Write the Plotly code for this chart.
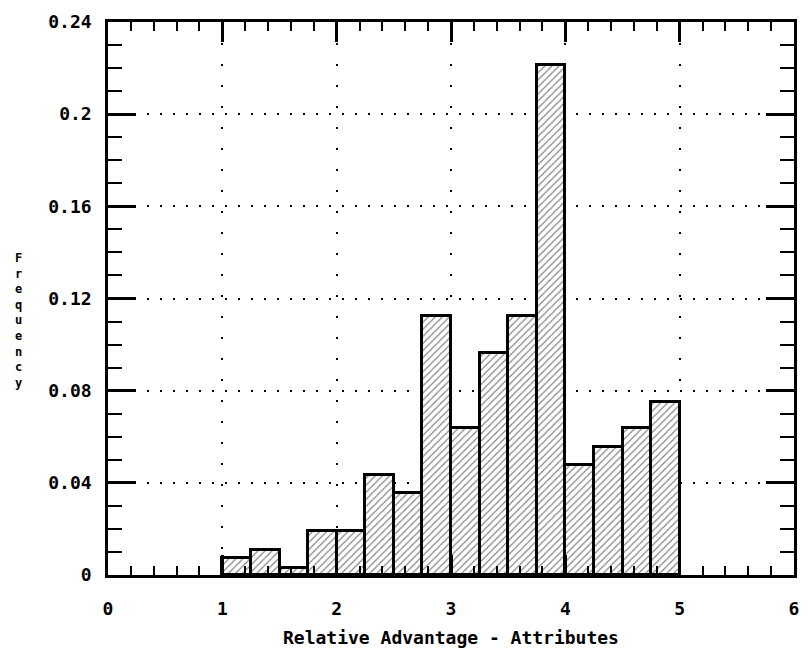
import plotly.graph_objects as go

# Histogram bins (left edges, width 0.25) and relative frequencies
bin_left = [1.0, 1.25, 1.5, 1.75, 2.0, 2.25, 2.5, 2.75, 3.0, 3.25, 3.5, 3.75, 4.0, 4.25, 4.5, 4.75]
frequency = [0.0075, 0.0108, 0.0032, 0.019, 0.019, 0.0434, 0.0354, 0.1125, 0.0639, 0.0964,
             0.1125, 0.2213, 0.0477, 0.0557, 0.0639, 0.0752]
bin_width = 0.25
x_ticks = [0, 1, 2, 3, 4, 5, 6]
y_ticks = [0, 0.04, 0.08, 0.12, 0.16, 0.2, 0.24]
y_tick_labels = ["0", "0.04", "0.08", "0.12", "0.16", "0.2", "0.24"]
y_title = "Frequency"

FONT = "DejaVu Sans Mono"

centers = [b + bin_width / 2 for b in bin_left]

fig = go.Figure()
fig.add_trace(go.Bar(
    x=centers, y=frequency, width=[bin_width] * len(centers),
    marker=dict(
        color="white",
        line=dict(color="black", width=3),
        pattern=dict(shape="/", fgcolor="black", bgcolor="white", size=5, solidity=0.22),
    ),
    showlegend=False,
))

fig.update_layout(
    width=809, height=666,
    margin=dict(l=108, r=10, t=22, b=91),
    plot_bgcolor="white", paper_bgcolor="white",
    font=dict(family=FONT, color="black", size=18),
    bargap=0,
)

fig.update_xaxes(
    range=[0, 6], tickvals=x_ticks, ticktext=[str(v) for v in x_ticks],
    showline=True, linecolor="black", linewidth=2.5, mirror="allticks",
    ticks="inside", ticklen=20, tickwidth=2.5, tickcolor="black",
    minor=dict(dtick=0.2, ticks="inside", ticklen=9, tickwidth=2, tickcolor="black", showgrid=False),
    showgrid=True, gridcolor="black", gridwidth=2, griddash="2px,19px",
    zeroline=False, ticklabelstandoff=16,
    tickfont=dict(family=FONT, size=18, weight="bold"),
    title=dict(text="Relative Advantage - Attributes", standoff=14,
               font=dict(family=FONT, size=18, weight="bold")),
)
fig.update_yaxes(
    range=[0, 0.24], tickvals=y_ticks, ticktext=y_tick_labels,
    showline=True, linecolor="black", linewidth=2.5, mirror="allticks",
    ticks="inside", ticklen=28, tickwidth=2.5, tickcolor="black",
    minor=dict(dtick=0.01, ticks="inside", ticklen=14, tickwidth=2, tickcolor="black", showgrid=False),
    showgrid=True, gridcolor="black", gridwidth=2, griddash="2px,11px",
    zeroline=False, ticklabelstandoff=10,
    tickfont=dict(family=FONT, size=18, weight="bold"),
)

# Stacked upright letters for the y title
fig.add_annotation(
    text="<br>".join(list(y_title)), xref="paper", yref="paper",
    x=-0.13, y=0.461, xanchor="center", yanchor="middle", showarrow=False,
    font=dict(family=FONT, size=12, weight="bold"),
)

fig.write_html("out.html")
